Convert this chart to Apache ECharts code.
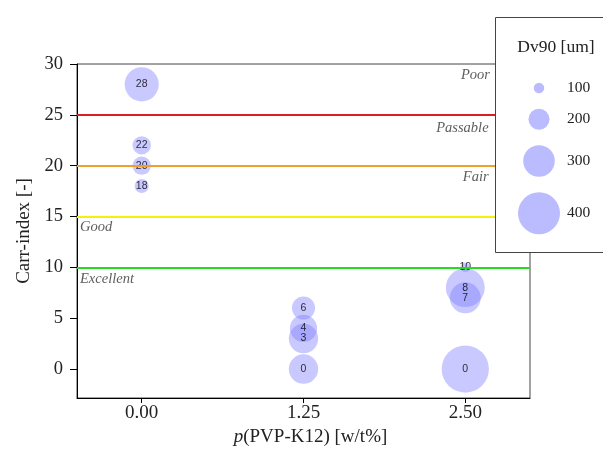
<!DOCTYPE html>
<html>
<head>
<meta charset="utf-8">
<script src="https://cdn.jsdelivr.net/npm/echarts@6/dist/echarts.min.js"></script>
<style>
    html, body { margin: 0; background: #fff; }
    #chart { width: 603px; height: 452px; }
</style>
</head>
<body>
<div id="chart"></div>
<script>
// 数据
const xTicks = [0, 1.25, 2.5];
const yTicks = [0, 5, 10, 15, 20, 25, 30];
const pvp = [0, 0, 0, 0, 1.25, 1.25, 1.25, 1.25, 2.5, 2.5, 2.5, 2.5];
const carr = [28, 22, 20, 18, 6, 4, 3, 0, 10, 8, 7, 0];
const dv90 = [325, 175, 175, 135, 220, 260, 280, 280, 90, 370, 295, 450];
const limits = [10, 15, 20, 25];
const limitColors = ["#22dd22", "#f2f20a", "#eba030", "#d82020"];
const zoneNames = ["Poor", "Passable", "Fair", "Good", "Excellent"];
const zoneX = [2.69, 2.68, 2.68, -0.477, -0.477];
const zoneY = [28.92, 23.7, 18.9, 13.97, 8.85];
const legendSizes = [100, 200, 300, 400];

const serif = "Liberation Serif";
const bubbleColor = "rgba(120,120,255,0.5)";
const sizeOf = v => v * 0.105;

let myChart = echarts.init(document.getElementById("chart"));

// 图例（右上角方框）
let legendItems = [];
let cy = 88;
legendSizes.forEach(function (v, i) {
    if (i > 0) cy += (sizeOf(legendSizes[i - 1]) + sizeOf(v)) / 2 + 15.5;
    legendItems.push({
        type: "circle",
        shape: {cx: 539, cy: cy, r: sizeOf(v) / 2},
        style: {fill: "#bbbbff"},
        z: 101
    });
    legendItems.push({
        type: "text",
        x: 567, y: cy,
        style: {text: String(v), font: "15.5px " + serif, fill: "#222", verticalAlign: "middle"},
        z: 101
    });
});

let option = {
    animation: false,
    grid: {
        left: 77, right: 73, top: 64, bottom: 54,
        show: true, borderColor: "#444", borderWidth: 1
    },
    xAxis: {
        type: "value",
        min: -0.5,
        max: 3.0,
        name: "{i|p}(PVP-K12) [w/t%]",
        nameLocation: "middle",
        nameGap: 29,
        nameTextStyle: {
            fontFamily: serif, fontSize: 19, color: "#222",
            padding: [0, 0, 0, 14],
            rich: {i: {fontFamily: serif, fontSize: 19, fontStyle: "italic", color: "#222"}}
        },
        axisLine: {onZero: false, lineStyle: {color: "#000"}},
        axisTick: {customValues: xTicks, length: 5, lineStyle: {color: "#000"}},
        axisLabel: {
            customValues: xTicks,
            formatter: v => v.toFixed(2),
            fontFamily: serif, fontSize: 19, color: "#222", margin: 6
        },
        splitLine: {show: false}
    },
    yAxis: {
        type: "value",
        min: -2.85,
        max: 30,
        name: "Carr-index [-]",
        nameLocation: "middle",
        nameGap: 40,
        nameTextStyle: {fontFamily: serif, fontSize: 19, color: "#222"},
        axisLine: {onZero: false, lineStyle: {color: "#000"}},
        axisTick: {customValues: yTicks, length: 7, lineStyle: {color: "#000"}},
        axisLabel: {
            customValues: yTicks,
            fontFamily: serif, fontSize: 18.5, color: "#222", margin: 14
        },
        splitLine: {show: false}
    },
    series: [
        {
            // 分级线
            type: "line",
            data: [],
            silent: true,
            markLine: {
                symbol: "none",
                label: {show: false},
                data: limits.map((v, i) => ({
                    yAxis: v,
                    lineStyle: {color: limitColors[i], width: 2, type: "solid"}
                }))
            }
        },
        {
            type: "scatter",
            data: pvp.map((x, i) => [x, carr[i], dv90[i]]),
            symbolSize: d => sizeOf(d[2]),
            itemStyle: {color: bubbleColor},
            label: {
                show: true,
                position: "inside",
                formatter: p => p.value[1],
                fontFamily: "Liberation Sans",
                fontSize: 10.5,
                color: "#000"
            },
            z: 3
        },
        {
            // 分级文字
            type: "scatter",
            symbolSize: 0,
            silent: true,
            data: zoneNames.map((n, i) => ({
                name: n,
                value: [zoneX[i], zoneY[i]],
                label: {position: i < 3 ? "left" : "right"}
            })),
            label: {
                show: true,
                distance: 0,
                formatter: "{b}",
                fontFamily: serif,
                fontSize: 14.5,
                fontStyle: "italic",
                color: "#333"
            }
        }
    ],
    graphic: [
        {
            type: "rect",
            shape: {x: 495.5, y: 17.5, width: 130, height: 235},
            style: {fill: "#fff", stroke: "#444", lineWidth: 1},
            z: 100
        },
        {
            type: "text",
            x: 556, y: 47,
            style: {text: "Dv90 [um]", font: "17.5px " + serif, fill: "#222", align: "center", verticalAlign: "middle"},
            z: 101
        }
    ].concat(legendItems)
};
myChart.setOption(option);
</script>
</body>
</html>
